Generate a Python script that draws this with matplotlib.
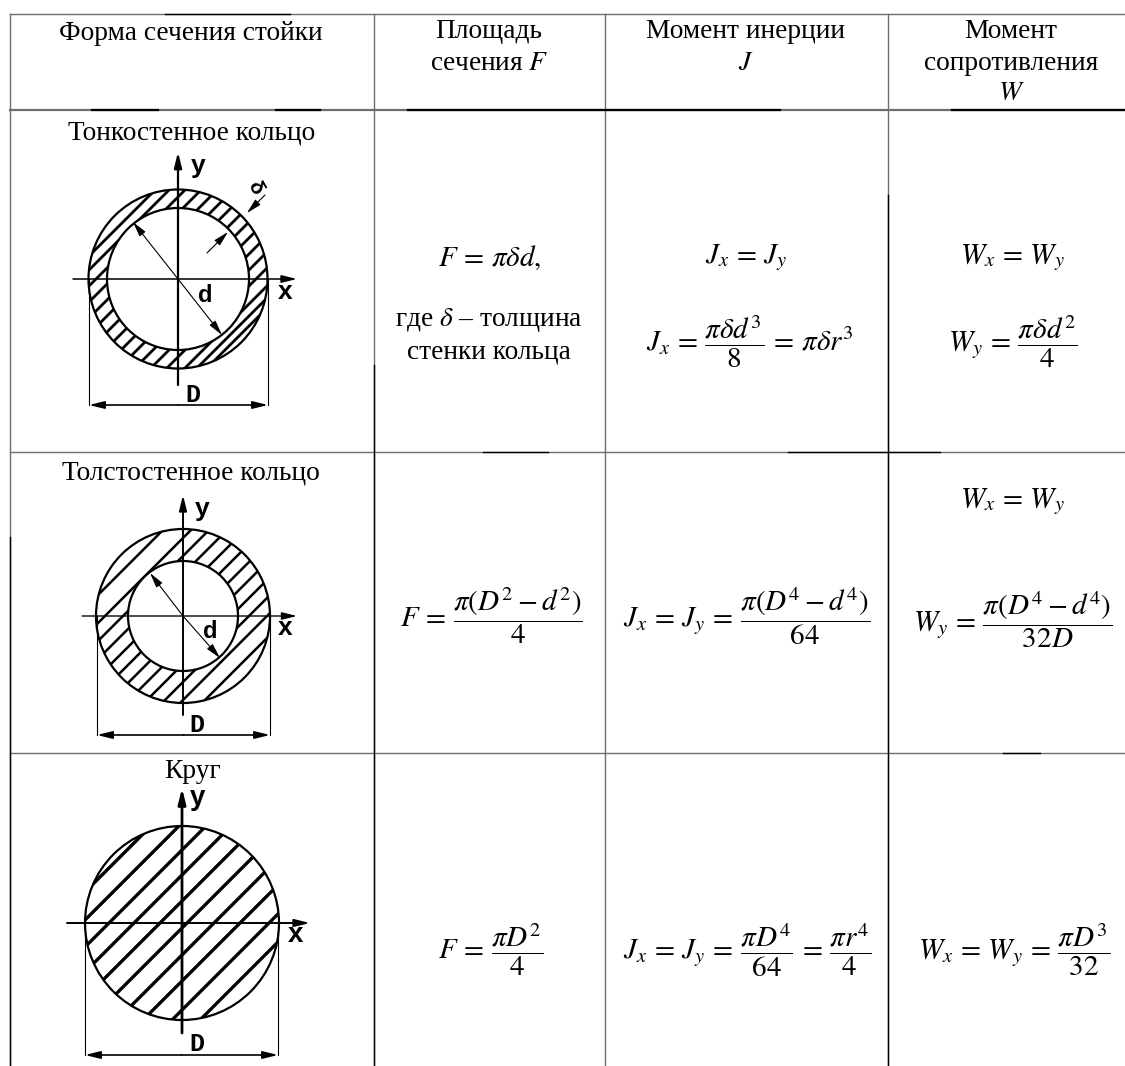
from matplotlib import pyplot as plt
from matplotlib.patches import Wedge, Circle

plt.rcParams['font.family'] = ['Liberation Serif', 'DejaVu Serif']
plt.rcParams['mathtext.fontset'] = 'stix'

# table lines, pixels of the picture
col_x = [9.5, 373.5, 605, 888]
row_y = [14, 110, 452, 753]
row_lw = [1.0, 1.6, 1.0, 1.0]
# where a line turns black: vertical (x, from y, to y), horizontal (y, from x, to x)
dark_v = [(9.5, 537, 1066), (373.5, 365, 1066), (888, 195, 1066)]
dark_h = [(14, 165, 290), (110, 92, 158), (110, 276, 320), (110, 408, 780), (110, 952, 1125),
          (452, 483, 548), (452, 788, 940), (753, 1003, 1040)]

# header cells: text, x, y
header_cells = [
    ('Форма сечения стойки', 191, 33),
    ('Площадь', 489, 32),
    ('сечения $F$', 489, 63),
    ('Момент инерции', 746, 32),
    ('$J$', 746, 63),
    ('Момент', 1011, 32),
    ('сопротивления', 1011, 64),
    ('$W$', 1011, 93),
]

row_titles = [
    ('Тонкостенное кольцо', 192, 133),
    ('Толстостенное кольцо', 191, 473),
    ('Круг', 193, 771),
]

# formula cells: text, x, y
text_cells = [
    ('где $\\delta$ – толщина', 489, 320),
    ('стенки кольца', 489, 352),
]
formula_cells = [
    (r'$F\,=\,\pi\delta d,$', 490, 258),
    (r'$J_x\,=\,J_y$', 746, 258),
    (r'$J_x\,=\,\dfrac{\pi\delta d^3}{8}\,=\,\pi\delta r^3$', 750, 342),
    (r'$W_x\,=\,W_y$', 1012, 258),
    (r'$W_y\,=\,\dfrac{\pi\delta d^2}{4}$', 1013, 342),
    (r'$W_x\,=\,W_y$', 1012, 502),
    (r'$F\,=\,\dfrac{\pi(D^2-d^2)}{4}$', 491, 616),
    (r'$J_x\,=\,J_y\,=\,\dfrac{\pi(D^4-d^4)}{64}$', 747, 616),
    (r'$W_y\,=\,\dfrac{\pi(D^4-d^4)}{32D}$', 1013, 620),
    (r'$F\,=\,\dfrac{\pi D^2}{4}$', 491, 950),
    (r'$J_x\,=\,J_y\,=\,\dfrac{\pi D^4}{64}\,=\,\dfrac{\pi r^4}{4}$', 747, 950),
    (r'$W_x\,=\,W_y\,=\,\dfrac{\pi D^3}{32}$', 1014, 950),
]

# section drawings: centre, outer and inner radius
centers = [(178, 279), (183, 616), (182, 923)]
outer_r = [89.5, 87, 97]
inner_r = [71, 55, 0]

# hatch lines, read as offset x+y from the centre
hatch_c = [
    [-112, -98, -82, -66, -50, -34, -18, -2, 14, 30, 46, 62, 78, 96, 108, 118],
    [-106, -78, -60, -42, -24, -6, 12, 30, 48, 66, 84, 106],
    [-128, -100, -73, -48, -22, 5, 32, 58, 87, 115],
]
hatch_lw = [2.0, 1.8, 2.4]
axis_lw = [1.6, 1.4, 2.0]

# axes: y axis top, y axis bottom, x axis left, x axis right
axis_ends = [(152, 385, 73, 297), (495, 715, 82, 297), (788, 1033, 67, 310)]
# dimension D: line y, left x, right x
dim_d = [(405, 89, 268), (735, 97, 270), (1055, 85, 278)]

# letters on the drawings: text, x, y, size
letters = [
    ('y', 198, 166, 19), ('x', 285, 292, 19), ('d', 205, 295, 17),
    ('y', 202, 509, 19), ('x', 285, 628, 19), ('d', 210, 632, 17),
    ('y', 198, 798, 20), ('x', 295, 935, 20),
]
d_letters = [(193, 395), (197, 725), (197, 1044)]
delta_letter = (255, 188)

# leaders with arrow head: from, to
leaders = [
    ((178, 279), (133, 222)), ((178, 279), (222, 335)),
    ((207, 253), (228, 232)), ((265, 195), (247, 213)),
    ((183, 616), (150, 573)), ((183, 616), (220, 658)),
]


def arrow(ax, start, end, lw=0.8):
    ax.annotate('', xy=end, xytext=start, zorder=5,
                arrowprops=dict(arrowstyle='-|>,head_length=0.65,head_width=0.16', color='black',
                                lw=lw, mutation_scale=14, shrinkA=0, shrinkB=0))


def draw_section(ax, i):
    cx, cy = centers[i]
    r_out, r_in = outer_r[i], inner_r[i]
    # area that the hatch may fill
    clip = Wedge((cx, cy), r_out, 0, 360, width=r_out - r_in, fc='none', ec='none')
    ax.add_patch(clip)
    for c in hatch_c[i]:
        xs = [cx - 200, cx + 200]
        ys = [cy + c + 200, cy + c - 200]
        line, = ax.plot(xs, ys, color='black', lw=hatch_lw[i], solid_capstyle='butt')
        line.set_clip_path(clip)
    ax.add_patch(Circle((cx, cy), r_out, fc='none', ec='black', lw=1.6))
    if r_in > 0:
        ax.add_patch(Circle((cx, cy), r_in, fc='none', ec='black', lw=1.6))

    # axes with arrow heads
    y_top, y_bot, x_left, x_right = axis_ends[i]
    arrow(ax, (cx, y_bot), (cx, y_top), lw=axis_lw[i])
    arrow(ax, (x_left, cy), (x_right, cy), lw=axis_lw[i] * 0.7)

    # dimension D
    dim_y, dim_l, dim_r = dim_d[i]
    ax.plot([dim_l, dim_l], [cy, dim_y], color='black', lw=0.8)
    ax.plot([dim_r, dim_r], [cy, dim_y], color='black', lw=0.8)
    arrow(ax, ((dim_l + dim_r) / 2, dim_y), (dim_l, dim_y), lw=1.2)
    arrow(ax, ((dim_l + dim_r) / 2, dim_y), (dim_r, dim_y), lw=1.2)


fig = plt.figure(figsize=(11.25, 10.66), dpi=100)
ax = fig.add_axes([0, 0, 1, 1])
ax.set_xlim(0, 1125)
ax.set_ylim(1066, 0)
ax.axis('off')

# сетка таблицы
for x in col_x:
    ax.plot([x, x], [row_y[0], 1066], color='#6e6e6e', lw=1.0)
for y, lw in zip(row_y, row_lw):
    ax.plot([col_x[0], 1125], [y, y], color='#6e6e6e', lw=lw)
for x, y0, y1 in dark_v:
    ax.plot([x, x], [y0, y1], color='black', lw=1.0)
for y, x0, x1 in dark_h:
    ax.plot([x0, x1], [y, y], color='black', lw=1.6 if y == 110 else 1.0)

for text, x, y in header_cells + row_titles + text_cells:
    ax.text(x, y, text, ha='center', va='center', fontsize=19.7, color='black')
for text, x, y in formula_cells:
    ax.text(x, y, text, ha='center', va='center', fontsize=21, color='black')

for i in range(len(centers)):
    draw_section(ax, i)

for start, end in leaders:
    arrow(ax, start, end, lw=0.8)

for text, x, y, size in letters:
    ax.text(x, y, text, ha='center', va='center', fontsize=size,
            family=['Liberation Sans'], fontweight='bold', color='black')
for x, y in d_letters:
    ax.text(x, y, 'D', ha='center', va='center', fontsize=18, fontweight='bold',
            family=['Liberation Mono'], color='black', zorder=6)
ax.text(delta_letter[0], delta_letter[1], 'δ', ha='center', va='center', fontsize=15,
        rotation=-60, fontweight='bold', family=['Liberation Sans'], color='black')

fig.savefig('out.png', dpi=100)
